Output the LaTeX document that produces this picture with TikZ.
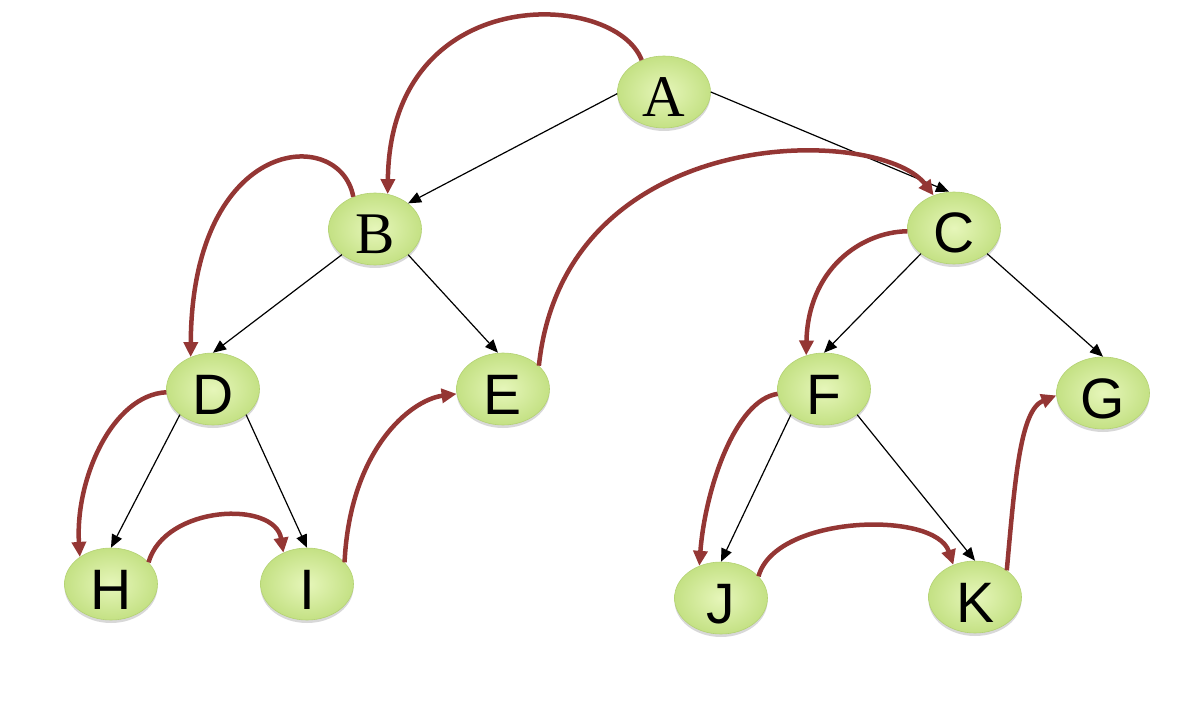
\documentclass[tikz,border=0pt]{standalone}
\usepackage{fontspec}
\setmainfont{Liberation Serif}
\setsansfont{Liberation Sans}
\usetikzlibrary{shapes.geometric,arrows.meta,shadows}
\definecolor{nodein}{HTML}{E6F6BA}
\definecolor{nodeout}{HTML}{C4E184}
\definecolor{nodeedge}{HTML}{B4D274}
\definecolor{travred}{HTML}{943634}
\tikzset{
  vnode/.style={ellipse, minimum width=93pt, minimum height=72pt, inner sep=0pt,
    text height=50pt, text depth=0pt,
    inner color=nodein, outer color=nodeout, draw=nodeedge, line width=0.6pt,
    drop shadow={shadow xshift=0pt, shadow yshift=-3pt, opacity=0.22, fill=black!70},
    font=\sffamily\fontsize{57}{57}\selectfont},
  snode/.style={vnode, font=\rmfamily\fontsize{59}{59}\selectfont},
  tree/.style={-{Triangle[length=13pt,width=11pt]}, line width=1.2pt, black},
  trav/.style={-{Triangle[length=15pt,width=14pt]}, line width=4.5pt, travred}
}
\begin{document}
\begin{tikzpicture}[x=1pt,y=-1pt]
\useasboundingbox (0,0) rectangle (1180,703);
\node[snode] (A) at (664,92) {A};
\node[snode] (B) at (375,229) {B};
\node[vnode] (C) at (954,228) {C};
\node[vnode] (D) at (213,389) {D};
\node[vnode] (E) at (503,389) {E};
\node[vnode] (F) at (824,389) {F};
\node[vnode] (G) at (1103,393) {G};
\node[vnode] (H) at (111,584) {H};
\node[vnode] (I) at (307,584) {I};
\node[vnode] (J) at (721,598) {J};
\node[vnode] (K) at (975,597) {K};

\draw[tree] (A.182) -- (B.north east);
\draw[tree] (A.east) -- ([xshift=-5pt]C.north);
\draw[tree] (B.south west) -- (D.north);
\draw[tree] (B.south east) -- ([xshift=-5pt]E.north);
\draw[tree] (C.south west) -- (F.north);
\draw[tree] (C.south east) -- (G.north);
\draw[tree] (D.south west) -- (H.north);
\draw[tree] (D.south east) -- (I.north);
\draw[tree] (F.south west) -- (J.north);
\draw[tree] (F.south east) -- (K.north);

\draw[trav] (A.125) .. controls (615,-10) and (390,-20) .. (B.70);
\draw[trav] (B.124) .. controls (340,125) and (192,135) .. (D.125);
\draw[trav] (E.33) .. controls (565,120) and (880,125) .. (C.122);
\draw[trav] (C.184) .. controls (860,232) and (808,270) .. (F.118);
\draw[trav] (D.184) .. controls (112,395) and (75,480) .. (H.139);
\draw[trav] (H.30) .. controls (165,505) and (275,500) .. (I.127);
\draw[trav] (I.30) .. controls (350,450) and (410,400) .. (E.186);
\draw[trav] (F.186) .. controls (735,400) and (705,490) .. (J.124);
\draw[trav] (J.30) .. controls (775,515) and (935,510) .. (K.124);
\draw[trav] (K.40) .. controls (1015,480) and (1020,410) .. (G.183);
\end{tikzpicture}
\end{document}
